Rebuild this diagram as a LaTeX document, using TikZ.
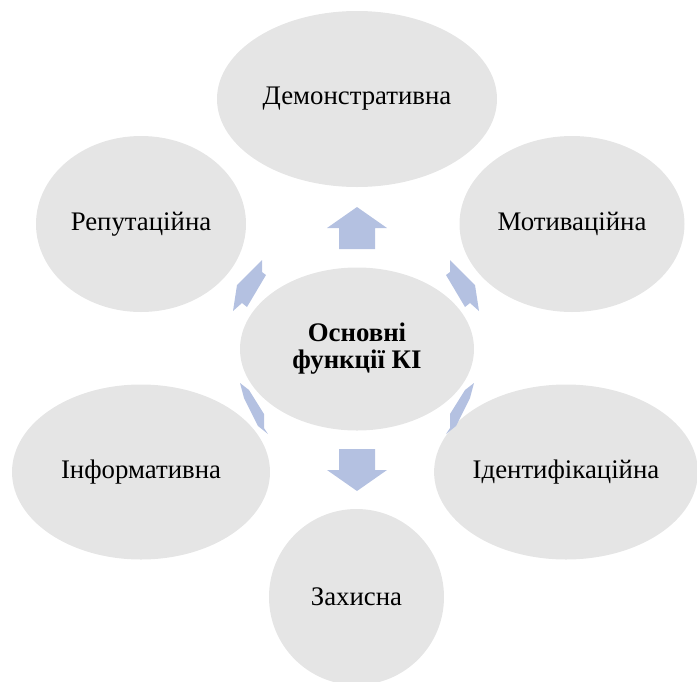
\documentclass[tikz,border=0pt]{standalone}
\usepackage{fontspec}
\setmainfont{Liberation Serif}
\usetikzlibrary{shapes.geometric}
\definecolor{bubble}{RGB}{229,229,229}
\definecolor{arrowblue}{RGB}{180,193,225}
\tikzset{
  bubble/.style={ellipse, fill=bubble, draw=none, inner sep=0pt, align=center, font=\fontsize{26.8}{28}\selectfont},
  blockarrow/.style={fill=arrowblue, draw=none}
}
\begin{document}
\begin{tikzpicture}[x=1pt,y=-1pt]
\useasboundingbox (0,0) rectangle (697,681);
\begin{scope}
\clip (0,0) rectangle (697,681);
\node[bubble, minimum width=280pt, minimum height=176pt] (dem) at (357,99) {Демонстративна};
\node[bubble, minimum width=210pt, minimum height=176pt] (rep) at (141,224) {Репутаційна};
\node[bubble, minimum width=225pt, minimum height=176pt] (mot) at (572,224) {Мотиваційна};
\node[bubble, minimum width=258pt, minimum height=175pt] (inf) at (141,472) {Інформативна};
\node[bubble, minimum width=262pt, minimum height=175pt] (ide) at (566,472) {Ідентифікаційна};
\node[bubble, minimum width=175pt, minimum height=176pt] (zah) at (356.5,597) {Захисна};
\node[bubble, minimum width=234pt, minimum height=163pt, font=\bfseries\fontsize{26.8}{27}\selectfont] (core) at (357,349) {Основні\\функції КІ};
\end{scope}
% up arrow
\fill[blockarrow] (357,207) -- (387,228) -- (375,228) -- (375,249) -- (339,249) -- (339,228) -- (327,228) -- cycle;
% down arrow
\fill[blockarrow] (357,491) -- (387,470) -- (375,470) -- (375,449) -- (339,449) -- (339,470) -- (327,470) -- cycle;
% upper-left
\fill[blockarrow] (262,260) -- (237,285) -- (233,311) -- (242,303) -- (247,307) -- (266,275) -- (262,272) -- cycle;
% upper-right
\fill[blockarrow] (450,260) -- (475,285) -- (479,311) -- (470,303) -- (465,307) -- (446,275) -- (450,272) -- cycle;
% lower-left
\fill[blockarrow] (240,383) -- (249,390) -- (264,414) -- (264,428) -- (268,434) -- (258,426) -- (244,398) -- cycle;
% lower-right
\fill[blockarrow] (474,383) -- (465,390) -- (450,414) -- (450,428) -- (446,434) -- (456,426) -- (470,398) -- cycle;
\end{tikzpicture}
\end{document}
